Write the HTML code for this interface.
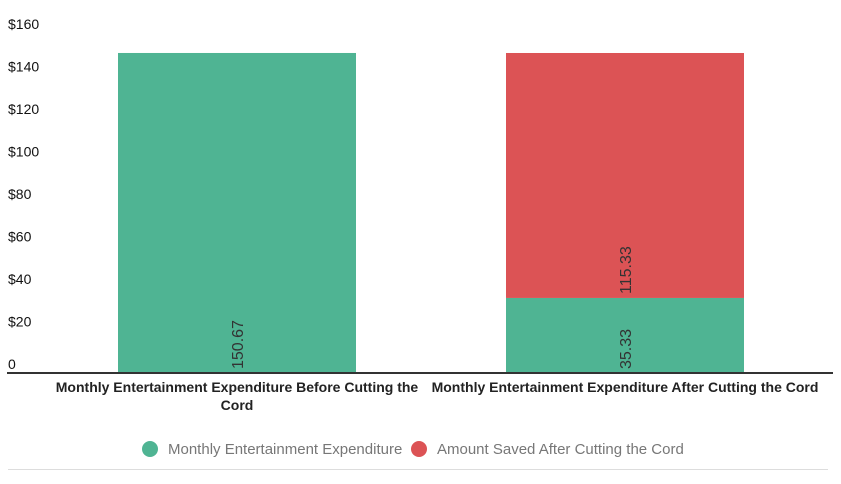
<!DOCTYPE html>
<html><head><meta charset="utf-8"><style>
body{margin:0;background:#fff;font-family:"Liberation Sans",sans-serif}
</style></head><body>
<svg width="841" height="479" id="c" font-family="Liberation Sans, sans-serif"></svg>
<script>
const categories=["Monthly Entertainment Expenditure Before Cutting the|Cord","Monthly Entertainment Expenditure After Cutting the Cord"];
const expenditure=[150.67,35.33];
const saved=[0,115.33];
const yTicks=[0,20,40,60,80,100,120,140,160];
const yTickLabels=["0","$20","$40","$60","$80","$100","$120","$140","$160"];
const svg=document.getElementById('c');const NS='http://www.w3.org/2000/svg';
function y(v){return 373-v*2.124;}
const bandX=[118,506],bw=238;
function el(t,a,p){const e=document.createElementNS(NS,t);for(const k in a)e.setAttribute(k,a[k]);(p||svg).appendChild(e);return e;}
yTicks.forEach((v,i)=>{const t=el('text',{x:8,y:y(v)-4,'font-size':14,fill:'#111'});t.textContent=yTickLabels[i];

});
categories.forEach((c,i)=>{
 const x=bandX[i];
 const g=el('rect',{x:x,y:y(expenditure[i]),width:bw,height:373-y(expenditure[i]),fill:'#4fb493'});
 
 
 if(saved[i]>0){const r=el('rect',{x:x,y:y(expenditure[i]+saved[i]),width:bw,height:y(expenditure[i])-y(expenditure[i]+saved[i]),fill:'#dc5355'});
 
 
 const t2=el('text',{transform:`translate(${x+bw/2+6},${y(expenditure[i])-4}) rotate(-90)`,'font-size':16,fill:'#333'});t2.textContent=saved[i].toFixed(2);
 
 }
 const t=el('text',{transform:`translate(${x+bw/2+6},369) rotate(-90)`,'font-size':16,fill:'#333'});t.textContent=expenditure[i].toFixed(2);
 
 
 c.split('|').forEach((ln,j)=>{const l=el('text',{x:x+bw/2,y:392+j*18,'font-size':14,'font-weight':'bold',fill:'#222','text-anchor':'middle'});l.textContent=ln;
 
 });
});
const ax=el('line',{x1:7,x2:833,y1:373,y2:373,stroke:'#333','stroke-width':2});


const sep=el('line',{x1:8,x2:828,y1:469.5,y2:469.5,stroke:'#ddd','stroke-width':1});


[[150,'#4fb493','Monthly Entertainment Expenditure',168],[419,'#dc5355','Amount Saved After Cutting the Cord',437]].forEach(d=>{
 const g=el('g',{});
 el('circle',{cx:d[0],cy:449,r:8,fill:d[1]},g);
 const t=el('text',{x:d[3],y:454,'font-size':15,fill:'#777'},g);t.textContent=d[2];});
</script>
</body></html>
